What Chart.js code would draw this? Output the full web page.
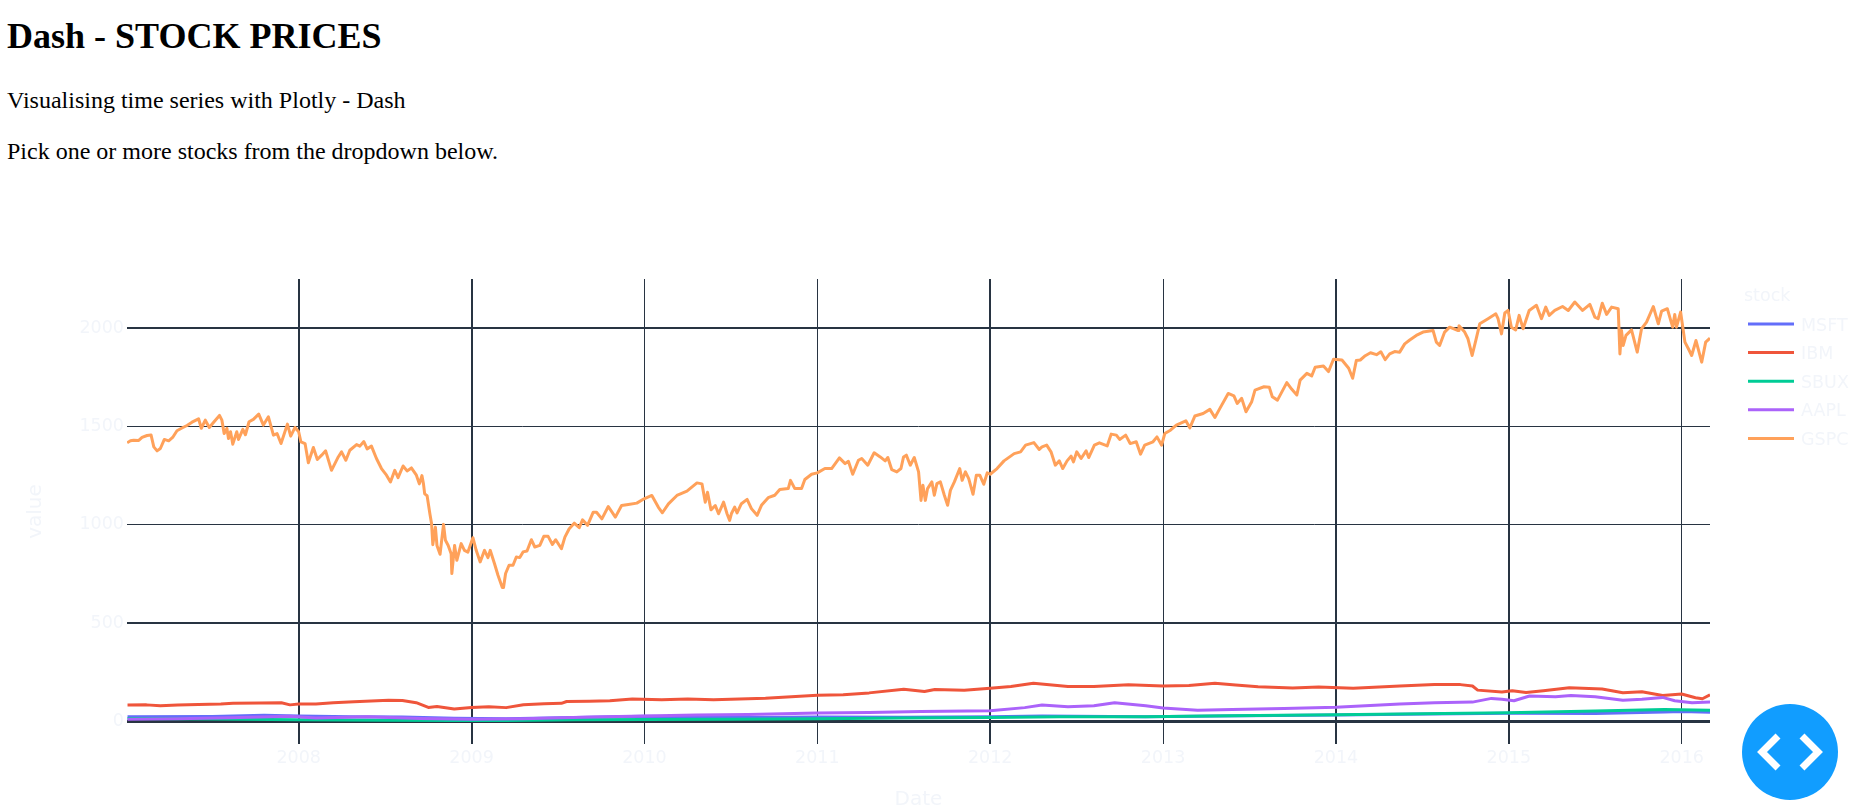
<!DOCTYPE html>
<html>
<head>
<meta charset="utf-8">
<title>Dash - STOCK PRICES</title>
<script src="https://cdn.jsdelivr.net/npm/chart.js@4"></script>
<style>
    html, body { margin: 0; padding: 0; background: #fff; overflow: hidden; }
    body { font-family: "Liberation Serif", serif; color: #000; width: 1866px; height: 810px; position: relative; }
    h1 { position: absolute; left: 7px; top: 15px; margin: 0; font-size: 36px; line-height: 42px; font-weight: bold; }
    p { position: absolute; left: 7px; margin: 0; font-size: 24px; line-height: 26px; }
    #intro { top: 87px; }
    #pick { top: 138px; }
    #chartBox { position: absolute; left: 0; top: 200px; }
    #debugBtn { position: absolute; left: 1742px; top: 704px; width: 96px; height: 96px; }
</style>
</head>
<body>
<h1>Dash - STOCK PRICES</h1>
<p id="intro">Visualising time series with Plotly - Dash</p>
<p id="pick">Pick one or more stocks from the dropdown below.</p>
<div id="chartBox"><canvas id="stockChart" width="1866" height="610"></canvas></div>
<svg id="debugBtn" viewBox="0 0 96 96">
    <circle cx="48" cy="48" r="48" fill="#119dff"/>
    <path d="M36 32 L20 48 L36 64 M60 32 L76 48 L60 64" fill="none" stroke="#fff" stroke-width="7"/>
</svg>

<script>
// Axis ticks
const yearTicks = [2008, 2009, 2010, 2011, 2012, 2013, 2014, 2015, 2016];
const valueTicks = [0, 500, 1000, 1500, 2000];

// Series, dates as decimal years
const gspcDates = [
    2007.008, 2007.027, 2007.046, 2007.075, 2007.094, 2007.123, 2007.146, 2007.162, 2007.181, 2007.2,
    2007.223, 2007.248, 2007.271, 2007.296, 2007.325, 2007.354, 2007.383, 2007.421, 2007.437, 2007.46,
    2007.483, 2007.512, 2007.542, 2007.556, 2007.569, 2007.585, 2007.594, 2007.606, 2007.619, 2007.642,
    2007.652, 2007.677, 2007.692, 2007.713, 2007.738, 2007.769, 2007.796, 2007.825, 2007.854, 2007.875,
    2007.898, 2007.935, 2007.954, 2007.979, 2008.0, 2008.013, 2008.037, 2008.056, 2008.085, 2008.108,
    2008.133, 2008.156, 2008.19, 2008.229, 2008.248, 2008.273, 2008.296, 2008.335, 2008.354, 2008.377,
    2008.396, 2008.421, 2008.45, 2008.479, 2008.508, 2008.531, 2008.556, 2008.575, 2008.604, 2008.627,
    2008.652, 2008.681, 2008.698, 2008.713, 2008.722, 2008.729, 2008.743, 2008.759, 2008.769, 2008.776,
    2008.791, 2008.8, 2008.818, 2008.838, 2008.849, 2008.865, 2008.882, 2008.886, 2008.902, 2008.915,
    2008.94, 2008.959, 2008.979, 2009.008, 2009.027, 2009.05, 2009.075, 2009.095, 2009.108, 2009.133,
    2009.153, 2009.178, 2009.185, 2009.197, 2009.217, 2009.24, 2009.259, 2009.279, 2009.298, 2009.321,
    2009.346, 2009.366, 2009.395, 2009.418, 2009.443, 2009.468, 2009.487, 2009.52, 2009.54, 2009.565,
    2009.594, 2009.623, 2009.642, 2009.671, 2009.704, 2009.723, 2009.754, 2009.791, 2009.832, 2009.868,
    2009.907, 2009.956, 2009.998, 2010.043, 2010.081, 2010.104, 2010.139, 2010.188, 2010.246, 2010.304,
    2010.333, 2010.352, 2010.365, 2010.385, 2010.41, 2010.429, 2010.458, 2010.478, 2010.493, 2010.503,
    2010.522, 2010.536, 2010.561, 2010.594, 2010.619, 2010.652, 2010.677, 2010.716, 2010.754, 2010.783,
    2010.832, 2010.845, 2010.87, 2010.909, 2010.928, 2010.967, 2011.0, 2011.044, 2011.083, 2011.128,
    2011.161, 2011.18, 2011.205, 2011.238, 2011.257, 2011.292, 2011.329, 2011.364, 2011.393, 2011.408,
    2011.431, 2011.46, 2011.484, 2011.499, 2011.515, 2011.538, 2011.561, 2011.586, 2011.6, 2011.611,
    2011.625, 2011.638, 2011.663, 2011.677, 2011.692, 2011.712, 2011.735, 2011.754, 2011.77, 2011.793,
    2011.824, 2011.838, 2011.857, 2011.876, 2011.901, 2011.92, 2011.94, 2011.963, 2011.983, 2012.0,
    2012.04, 2012.08, 2012.139, 2012.176, 2012.205, 2012.253, 2012.284, 2012.3, 2012.327, 2012.352,
    2012.377, 2012.4, 2012.42, 2012.445, 2012.468, 2012.482, 2012.501, 2012.526, 2012.555, 2012.57,
    2012.603, 2012.632, 2012.677, 2012.7, 2012.73, 2012.749, 2012.784, 2012.81, 2012.845, 2012.87,
    2012.894, 2012.942, 2012.965, 2012.992, 2013.01, 2013.043, 2013.077, 2013.132, 2013.155, 2013.184,
    2013.232, 2013.271, 2013.3, 2013.329, 2013.377, 2013.41, 2013.429, 2013.455, 2013.48, 2013.513,
    2013.532, 2013.584, 2013.615, 2013.632, 2013.662, 2013.716, 2013.745, 2013.774, 2013.793, 2013.832,
    2013.86, 2013.88, 2013.928, 2013.957, 2013.986, 2014.035, 2014.074, 2014.097, 2014.118, 2014.141,
    2014.17, 2014.2, 2014.235, 2014.26, 2014.285, 2014.311, 2014.34, 2014.369, 2014.398, 2014.427,
    2014.465, 2014.504, 2014.562, 2014.581, 2014.6, 2014.629, 2014.658, 2014.707, 2014.712, 2014.745,
    2014.764, 2014.788, 2014.809, 2014.832, 2014.88, 2014.925, 2014.938, 2014.958, 2014.977, 2014.996,
    2015.015, 2015.04, 2015.06, 2015.083, 2015.118, 2015.16, 2015.189, 2015.214, 2015.234, 2015.266,
    2015.311, 2015.344, 2015.382, 2015.427, 2015.469, 2015.498, 2015.517, 2015.541, 2015.566, 2015.595,
    2015.633, 2015.643, 2015.652, 2015.662, 2015.678, 2015.71, 2015.743, 2015.768, 2015.797, 2015.836,
    2015.865, 2015.884, 2015.917, 2015.948, 2015.96, 2015.97, 2015.994, 2016.019, 2016.039, 2016.058,
    2016.083, 2016.116, 2016.139, 2016.164
];
const gspcValues = [
    1417, 1427, 1430, 1429, 1444, 1454, 1457, 1396, 1376, 1388,
    1434, 1427, 1444, 1478, 1492, 1505, 1522, 1539, 1491, 1532,
    1495, 1525, 1556, 1532, 1464, 1490, 1439, 1473, 1410, 1473,
    1434, 1485, 1458, 1524, 1536, 1563, 1507, 1549, 1456, 1464,
    1413, 1512, 1451, 1495, 1473, 1422, 1413, 1315, 1393, 1332,
    1354, 1376, 1277, 1345, 1371, 1328, 1379, 1408, 1400, 1423,
    1386, 1400, 1337, 1286, 1252, 1218, 1277, 1240, 1299, 1274,
    1289, 1252, 1208, 1250, 1208, 1157, 1148, 1056, 1005, 899,
    988, 895, 850, 1002, 921, 895, 853, 752, 895, 819,
    904, 870, 861, 934, 870, 811, 870, 833, 870, 802,
    743, 681, 681, 752, 794, 794, 836, 833, 862, 867,
    924, 887, 895, 941, 941, 900, 924, 878, 937, 980,
    1008, 985, 1025, 997, 1064, 1064, 1030, 1093, 1039, 1098,
    1103, 1110, 1132, 1149, 1089, 1061, 1106, 1149, 1171, 1213,
    1208, 1115, 1165, 1076, 1098, 1056, 1115, 1056, 1022, 1056,
    1090, 1060, 1107, 1129, 1082, 1048, 1099, 1138, 1150, 1179,
    1184, 1226, 1184, 1184, 1230, 1257, 1264, 1286, 1286, 1340,
    1311, 1323, 1257, 1328, 1337, 1303, 1366, 1345, 1325, 1342,
    1280, 1269, 1286, 1345, 1354, 1303, 1342, 1269, 1124, 1201,
    1124, 1184, 1218, 1150, 1209, 1218, 1150, 1099, 1175, 1218,
    1286, 1226, 1269, 1235, 1155, 1252, 1252, 1206, 1264, 1257,
    1286, 1325, 1362, 1371, 1405, 1418, 1383, 1396, 1405, 1371,
    1303, 1325, 1286, 1325, 1349, 1320, 1371, 1337, 1376, 1342,
    1405, 1417, 1401, 1461, 1456, 1434, 1456, 1413, 1422, 1359,
    1405, 1422, 1447, 1405, 1464, 1481, 1507, 1529, 1493, 1553,
    1566, 1587, 1546, 1592, 1668, 1656, 1617, 1643, 1575, 1626,
    1685, 1702, 1699, 1651, 1634, 1723, 1689, 1660, 1736, 1770,
    1757, 1801, 1808, 1779, 1842, 1838, 1796, 1745, 1835, 1838,
    1860, 1875, 1865, 1880, 1840, 1869, 1881, 1878, 1920, 1940,
    1963, 1980, 1988, 1929, 1912, 1980, 2005, 1988, 2012, 1980,
    1946, 1861, 1937, 2022, 2048, 2073, 2048, 1971, 2077, 2090,
    2005, 1991, 2065, 1997, 2090, 2116, 2048, 2107, 2065, 2090,
    2110, 2090, 2133, 2090, 2121, 2056, 2048, 2127, 2070, 2107,
    2099, 1869, 1988, 1912, 1963, 1991, 1878, 1997, 2031, 2110,
    2022, 2087, 2099, 2005, 2070, 2005, 2082, 1929, 1895, 1861,
    1937, 1827, 1929, 1949
];

const ibmDates = [
    2007.01, 2007.12, 2007.2, 2007.3, 2007.42, 2007.55, 2007.62, 2007.78, 2007.9, 2007.95,
    2008.0, 2008.1, 2008.2, 2008.32, 2008.42, 2008.52, 2008.6, 2008.68, 2008.75, 2008.8,
    2008.9, 2009.0, 2009.1, 2009.2, 2009.3, 2009.42, 2009.52, 2009.55, 2009.68, 2009.8,
    2009.93, 2010.1, 2010.25, 2010.4, 2010.55, 2010.7, 2010.85, 2011.0, 2011.15, 2011.3,
    2011.5, 2011.62, 2011.68, 2011.85, 2012.0, 2012.12, 2012.25, 2012.45, 2012.6, 2012.8,
    2013.0, 2013.15, 2013.3, 2013.42, 2013.55, 2013.75, 2013.9, 2014.1, 2014.37, 2014.57,
    2014.72, 2014.79, 2014.82, 2014.96, 2015.02, 2015.1, 2015.2, 2015.35, 2015.54, 2015.66,
    2015.77, 2015.89, 2016.0, 2016.08, 2016.12, 2016.164
];
const ibmValues = [
    83, 84, 80, 83, 86, 88, 92, 93, 95, 84,
    88, 88, 95, 100, 104, 108, 106, 95, 71, 76,
    63, 71, 75, 70, 85, 90, 92, 101, 103, 105,
    114, 110, 114, 110, 114, 118, 125, 133, 135, 145,
    164, 152, 162, 158, 169, 178, 194, 178, 177, 186,
    180, 183, 194, 185, 176, 170, 175, 168, 180, 188,
    187, 180, 159, 149, 156, 147, 156, 171, 165, 146,
    151, 132, 139, 120, 115, 135
];

const msftDates = [
    2007.01, 2007.5, 2007.8, 2008.0, 2008.3, 2008.6, 2008.9, 2009.2, 2009.6, 2010.0,
    2010.3, 2010.6, 2011.0, 2011.5, 2012.0, 2012.3, 2012.9, 2013.3, 2014.0, 2014.4,
    2015.0, 2015.5, 2015.9, 2016.0, 2016.164
];
const msftValues = [
    24, 25, 31, 28, 23, 22, 16, 13, 20, 26,
    24, 20, 22, 21, 23, 27, 23, 28, 33, 36,
    41, 40, 48, 50, 47
];

const sbuxDates = [
    2007.01, 2007.5, 2008.0, 2008.5, 2008.9, 2009.2, 2009.6, 2010.0, 2010.5, 2011.0,
    2011.5, 2012.0, 2012.4, 2012.9, 2013.4, 2014.0, 2014.37, 2015.0, 2015.5, 2015.9,
    2016.164
];
const sbuxValues = [
    15, 12, 8, 6, 4, 4, 8, 10, 11, 14,
    17, 20, 24, 23, 29, 34, 37, 44, 53, 61,
    57
];

const aaplDates = [
    2007.01, 2007.3, 2007.6, 2007.95, 2008.1, 2008.4, 2008.7, 2009.0, 2009.3, 2009.7,
    2010.0, 2010.3, 2010.6, 2011.0, 2011.3, 2011.6, 2012.0, 2012.2, 2012.3, 2012.45,
    2012.6, 2012.72, 2012.9, 2013.0, 2013.2, 2013.4, 2013.7, 2014.0, 2014.37, 2014.57,
    2014.79, 2014.9, 2014.96, 2015.03, 2015.12, 2015.27, 2015.36, 2015.5, 2015.66, 2015.77,
    2015.89, 2015.96, 2016.06, 2016.164
];
const aaplValues = [
    11, 13, 18, 26, 17, 23, 15, 11, 14, 22,
    27, 33, 35, 43, 45, 50, 54, 70, 83, 74,
    80, 95, 80, 68, 57, 60, 65, 72, 88, 95,
    98, 117, 112, 105, 129, 125, 132, 125, 108, 112,
    122, 105, 95, 98
];

// Helper to pair a date list with a value list
function toPoints(dates, values) {
    return dates.map((date, i) => ({ x: date, y: values[i] }));
}

function lineDataset(label, color, dates, values, order) {
    return {
        label: label,
        data: toPoints(dates, values),
        borderColor: color,
        backgroundColor: color,
        borderWidth: 3,
        borderJoinStyle: 'round',
        pointRadius: 0,
        tension: 0,
        order: order
    };
}

const axisTextColor = '#f2f5fa';
const gridColor = '#283442';
const tickFont = { family: 'DejaVu Sans', size: 17.5 };

// Legend is placed by hand so it can sit clear of the plot
const sideLegend = {
    id: 'sideLegend',
    afterDraw(chart) {
        const ctx = chart.ctx;
        ctx.save();
        ctx.font = '17.5px "DejaVu Sans"';
        ctx.fillStyle = axisTextColor;
        ctx.textBaseline = 'middle';
        ctx.fillText('stock', 1744, 96);
        chart.data.datasets.forEach((ds, i) => {
            const y = 124 + i * 28.6;
            ctx.strokeStyle = ds.borderColor;
            ctx.lineWidth = 3;
            ctx.beginPath();
            ctx.moveTo(1748, y);
            ctx.lineTo(1794, y);
            ctx.stroke();
            ctx.fillStyle = axisTextColor;
            ctx.fillText(ds.label, 1801, y + 2);
        });
        ctx.restore();
    }
};

new Chart(document.getElementById('stockChart'), {
    type: 'line',
    data: {
        datasets: [
            lineDataset('MSFT', '#636efa', msftDates, msftValues, 5),
            lineDataset('IBM', '#EF553B', ibmDates, ibmValues, 4),
            lineDataset('SBUX', '#00cc96', sbuxDates, sbuxValues, 3),
            lineDataset('AAPL', '#ab63fa', aaplDates, aaplValues, 2),
            lineDataset('GSPC', '#FFA15A', gspcDates, gspcValues, 1)
        ]
    },
    plugins: [sideLegend],
    options: {
        responsive: false,
        animation: false,
        layout: { padding: { top: 79, right: 156, left: 0, bottom: 0 } },
        plugins: {
            legend: { display: false },
            tooltip: { enabled: false }
        },
        scales: {
            x: {
                type: 'linear',
                min: 2007.007,
                max: 2016.164,
                afterBuildTicks: axis => { axis.ticks = yearTicks.map(v => ({ value: v })); },
                afterFit: axis => { axis.height = 66; },
                border: { display: false },
                grid: {
                    color: gridColor,
                    drawTicks: false,
                    lineWidth: c => [2008, 2009, 2012, 2014, 2015].includes(c.tick.value) ? 2 : 1
                },
                ticks: {
                    color: axisTextColor,
                    font: tickFont,
                    padding: 4,
                    maxRotation: 0,
                    autoSkip: false,
                    callback: value => String(value)
                },
                title: {
                    display: true,
                    text: 'Date',
                    color: axisTextColor,
                    font: { family: 'DejaVu Sans', size: 20 },
                    padding: { top: 0, bottom: -2 }
                }
            },
            y: {
                min: -115,
                max: 2250,
                afterBuildTicks: axis => { axis.ticks = valueTicks.map(v => ({ value: v })); },
                afterFit: axis => { axis.width = 127; },
                border: { display: false },
                grid: {
                    color: gridColor,
                    drawTicks: false,
                    lineWidth: c => c.tick.value === 0 ? 3 : (c.tick.value === 2000 || c.tick.value === 500 ? 2 : 1)
                },
                ticks: {
                    color: axisTextColor,
                    font: tickFont,
                    padding: 3,
                    autoSkip: false,
                    callback: value => String(value)
                },
                title: {
                    display: true,
                    text: 'value',
                    color: axisTextColor,
                    font: { family: 'DejaVu Sans', size: 20 },
                    padding: { top: 24, bottom: 0 }
                }
            }
        }
    }
});
</script>
</body>
</html>
